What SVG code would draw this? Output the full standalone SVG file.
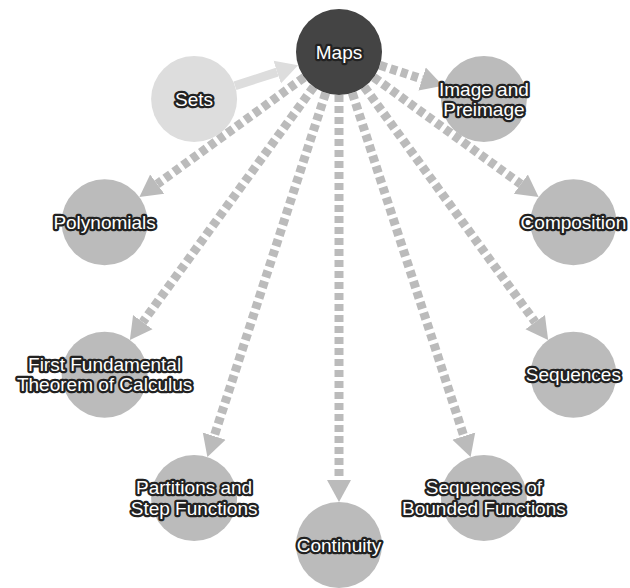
<svg xmlns="http://www.w3.org/2000/svg" width="630" height="588" viewBox="0 0 630 588">
<style>
.n{fill:#bbbbbb}
.e{fill:none;stroke:#bbbbbb;stroke-width:9;stroke-dasharray:7,4}
.s{fill:none;stroke:#dddddd;stroke-width:9}
.t{font-family:"Liberation Sans",Arial,sans-serif;font-size:19px;fill:#ffffff;stroke:#222222;stroke-width:4.5;stroke-linejoin:round;paint-order:stroke;text-anchor:middle;dominant-baseline:central}
</style>
<defs>
<marker id="a" markerUnits="userSpaceOnUse" markerWidth="24" markerHeight="26" refX="0" refY="13" orient="auto"><path d="M0,1 L22,13 L0,25 z" fill="#bbbbbb"/></marker>
<marker id="b" markerUnits="userSpaceOnUse" markerWidth="24" markerHeight="26" refX="0" refY="13" orient="auto"><path d="M0,1 L22,13 L0,25 z" fill="#dddddd"/></marker>
</defs>
<rect width="630" height="588" fill="#ffffff"/>
<g id="edges">
<path class="s" d="M235,85.8 L277.2,72.1" marker-end="url(#b)"/>
<path class="e" d="M379.9,65.3 L422.1,79" marker-end="url(#a)"/>
<path class="e" d="M373.8,77.3 L520.8,184.1" marker-end="url(#a)"/>
<path class="e" d="M364.3,86.8 L535.2,322.1" marker-end="url(#a)"/>
<path class="e" d="M352.3,92.9 L463.8,436.1" marker-end="url(#a)"/>
<path class="e" d="M339,95 L339,480" marker-end="url(#a)"/>
<path class="e" d="M325.7,92.9 L214.2,436.1" marker-end="url(#a)"/>
<path class="e" d="M313.7,86.8 L142.8,322.1" marker-end="url(#a)"/>
<path class="e" d="M304.2,77.3 L157.2,184.1" marker-end="url(#a)"/>
</g>
<g id="maps"><circle cx="339" cy="52" r="43" fill="#444444"/><text class="t" x="339" y="52">Maps</text></g>
<g id="sets"><circle cx="194.1" cy="99.1" r="43" fill="#dddddd"/><text class="t" x="194.1" y="99.1">Sets</text></g>
<g id="image"><circle class="n" cx="483.9" cy="99.1" r="43"/><text class="t" x="483.9" y="89.1">Image and</text><text class="t" x="483.9" y="109.6">Preimage</text></g>
<g id="composition"><circle class="n" cx="573.4" cy="222.3" r="43"/><text class="t" x="573.4" y="222.3">Composition</text></g>
<g id="sequences"><circle class="n" cx="573.4" cy="374.7" r="43"/><text class="t" x="573.4" y="374.7">Sequences</text></g>
<g id="seqbounded"><circle class="n" cx="483.9" cy="497.9" r="43"/><text class="t" x="483.9" y="487.9">Sequences of</text><text class="t" x="483.9" y="508.4">Bounded Functions</text></g>
<g id="continuity"><circle class="n" cx="339" cy="545" r="43"/><text class="t" x="339" y="545">Continuity</text></g>
<g id="partitions"><circle class="n" cx="194.1" cy="497.9" r="43"/><text class="t" x="194.1" y="487.9">Partitions and</text><text class="t" x="194.1" y="508.4">Step Functions</text></g>
<g id="fftc"><circle class="n" cx="104.6" cy="374.7" r="43"/><text class="t" x="104.6" y="364.2">First Fundamental</text><text class="t" x="104.6" y="384.7">Theorem of Calculus</text></g>
<g id="polynomials"><circle class="n" cx="104.6" cy="222.3" r="43"/><text class="t" x="104.6" y="222.3">Polynomials</text></g>
</svg>
